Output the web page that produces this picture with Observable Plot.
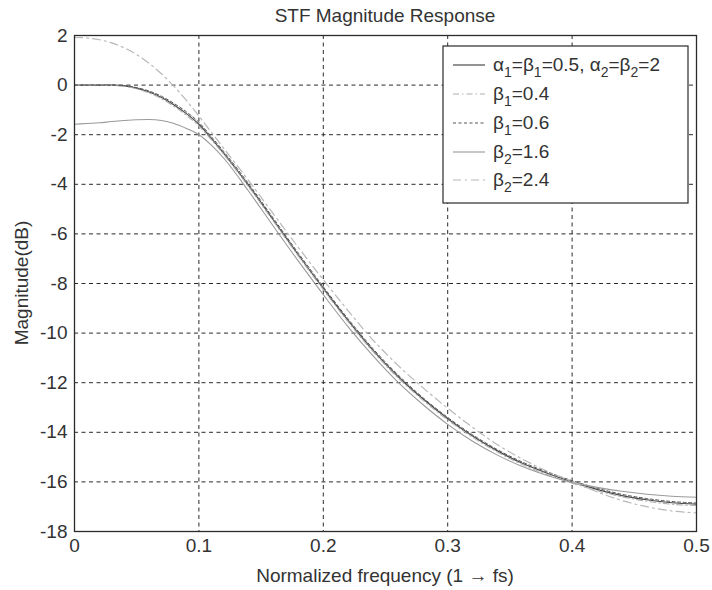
<!DOCTYPE html>
<html>
<head>
<meta charset="utf-8">
<script src="https://cdn.jsdelivr.net/npm/d3@7"></script>
<script src="https://cdn.jsdelivr.net/npm/@observablehq/plot@0.6"></script>
<style>
  html, body { margin: 0; padding: 0; background: #fff; }
  #chart svg { display: block; font-family: "Liberation Sans", Arial, sans-serif; }
</style>
</head>
<body>
<div id="chart"></div>
<script>
// Normalized frequency samples (cycles per sample, 0 .. fs/2)
const freq = [0, 0.01, 0.02, 0.03, 0.04, 0.05, 0.06, 0.07, 0.08, 0.09, 0.10, 0.11, 0.12,
  0.14, 0.16, 0.18, 0.20, 0.22, 0.24, 0.26, 0.28, 0.30, 0.32, 0.34, 0.36, 0.38,
  0.40, 0.42, 0.44, 0.46, 0.48, 0.50];

// STF magnitude (dB) for each coefficient set
const magNominal = [0, 0, 0, 0, -0.03, -0.12, -0.28, -0.5, -0.8, -1.15, -1.58, -2.15, -2.75,
  -4.05, -5.45, -6.85, -8.2, -9.5, -10.7, -11.75, -12.65, -13.45, -14.15, -14.75, -15.25, -15.65,
  -16.0, -16.3, -16.55, -16.72, -16.84, -16.9];
const magBeta1_04 = [0, 0, 0, -0.01, -0.05, -0.15, -0.32, -0.55, -0.86, -1.22, -1.65, -2.2, -2.8,
  -4.1, -5.5, -6.9, -8.25, -9.55, -10.75, -11.8, -12.7, -13.5, -14.2, -14.8, -15.3, -15.7,
  -16.05, -16.35, -16.6, -16.78, -16.9, -16.95];
const magBeta1_06 = [0, 0, 0, 0, -0.02, -0.1, -0.24, -0.45, -0.74, -1.08, -1.5, -2.08, -2.68,
  -3.98, -5.38, -6.78, -8.13, -9.43, -10.63, -11.68, -12.6, -13.4, -14.1, -14.7, -15.2, -15.6,
  -15.95, -16.25, -16.5, -16.67, -16.79, -16.85];
const magBeta2_16 = [-1.58, -1.55, -1.52, -1.47, -1.43, -1.4, -1.39, -1.43, -1.55, -1.75, -2.0, -2.42, -2.95,
  -4.28, -5.7, -7.1, -8.45, -9.75, -10.92, -11.98, -12.88, -13.68, -14.36, -14.92, -15.38, -15.74,
  -16.02, -16.22, -16.38, -16.5, -16.58, -16.62];
const magBeta2_24 = [1.92, 1.9, 1.83, 1.7, 1.5, 1.23, 0.88, 0.45, -0.05, -0.62, -1.25, -1.9, -2.55,
  -3.85, -5.2, -6.55, -7.85, -9.1, -10.28, -11.3, -12.2, -13.03, -13.8, -14.5, -15.08, -15.57,
  -15.98, -16.4, -16.75, -17.0, -17.17, -17.25];

const xTicks = [0, 0.1, 0.2, 0.3, 0.4, 0.5];
const yTicks = [2, 0, -2, -4, -6, -8, -10, -12, -14, -16, -18];

// Line style per series: [key, values, stroke, dasharray, width]
const seriesStyles = [
  ["nominal", magNominal, "#4a4a4a", null, 1.2],
  ["b1_04", magBeta1_04, "#b0b0b0", "6,3,1.5,3", 1.1],
  ["b1_06", magBeta1_06, "#555555", "3,2.5", 1.0],
  ["b2_16", magBeta2_16, "#9a9a9a", null, 1.1],
  ["b2_24", magBeta2_24, "#b8b8b8", "8,4,2,4", 1.2]
];

const W = 712, H = 590;
const mL = 74, mR = 16, mT = 35, mB = 59;
const FS = 19;
const minusFmt = d => d < 0 ? "-" + Math.abs(d) : String(d);

const marks = [
  Plot.gridX(xTicks, {stroke: "#2a2a2a", strokeOpacity: 1, strokeDasharray: "4,3.5", strokeWidth: 1}),
  Plot.gridY(yTicks, {stroke: "#2a2a2a", strokeOpacity: 1, strokeDasharray: "4,3.5", strokeWidth: 1}),
  Plot.axisX(xTicks, {tickSize: 0, tickPadding: 7, fontSize: FS, label: null, tickFormat: d => String(d)}),
  Plot.axisY(yTicks, {tickSize: 0, tickPadding: 7, fontSize: FS, label: null, tickFormat: minusFmt})
];
for (const [key, vals, stroke, dash, sw] of seriesStyles) {
  const rows = freq.map((f, i) => ({f, m: vals[i]}));
  marks.push(Plot.line(rows, {x: "f", y: "m", stroke, strokeWidth: sw,
    strokeDasharray: dash ?? undefined, curve: "monotone-x"}));
}
marks.push(Plot.frame({stroke: "#2a2a2a", strokeWidth: 1.3}));

const plot = Plot.plot({
  width: W, height: H,
  marginLeft: mL, marginRight: mR, marginTop: mT, marginBottom: mB,
  style: {fontFamily: "Liberation Sans, Arial, sans-serif", color: "#333", background: "#fff"},
  x: {domain: [0, 0.5]},
  y: {domain: [-18, 2]},
  marks
});

const svg = d3.select(plot);
const cx = (mL + (W - mR)) / 2;
const cy = (mT + (H - mB)) / 2;

svg.append("text").attr("x", cx).attr("y", 22).attr("text-anchor", "middle")
  .attr("font-size", FS).attr("fill", "#333").text("STF Magnitude Response");
svg.append("text").attr("x", cx).attr("y", 582).attr("text-anchor", "middle")
  .attr("font-size", FS).attr("fill", "#333").text("Normalized frequency (1 \u2192 fs)");
svg.append("text").attr("transform", `translate(28,${cy}) rotate(-90)`).attr("text-anchor", "middle")
  .attr("font-size", FS).attr("fill", "#333").text("Magnitude(dB)");

// Legend box (upper right, inside the axes)
const lg = svg.append("g").attr("text-anchor", "start");
lg.append("rect").attr("x", 443).attr("y", 46).attr("width", 245).attr("height", 157)
  .attr("fill", "#fff").attr("stroke", "#2a2a2a").attr("stroke-width", 1.2);

const legendRows = [
  [["α", "1"], "=", ["β", "1"], "=0.5, ", ["α", "2"], "=", ["β", "2"], "=2"],
  [["β", "1"], "=0.4"],
  [["β", "1"], "=0.6"],
  [["β", "2"], "=1.6"],
  [["β", "2"], "=2.4"]
];
const rowY = [65, 94, 123, 152, 180];
legendRows.forEach((parts, i) => {
  const [, , stroke, dash, sw] = seriesStyles[i];
  const y = rowY[i];
  lg.append("line").attr("x1", 453).attr("x2", 485).attr("y1", y).attr("y2", y)
    .attr("stroke", stroke).attr("stroke-width", sw)
    .attr("stroke-dasharray", dash);
  const t = lg.append("text").attr("x", 493).attr("y", y + 6)
    .attr("font-size", FS).attr("fill", "#333").attr("text-anchor", "start");
  let shift = 0; // pending baseline change carried into the next tspan
  for (const p of parts) {
    if (Array.isArray(p)) {
      t.append("tspan").attr("dy", shift).text(p[0]);
      t.append("tspan").attr("dy", 6).attr("font-size", 14).text(p[1]);
      shift = -6;
    } else {
      t.append("tspan").attr("dy", shift).text(p);
      shift = 0;
    }
  }
});

document.getElementById("chart").append(plot);
</script>
</body>
</html>
